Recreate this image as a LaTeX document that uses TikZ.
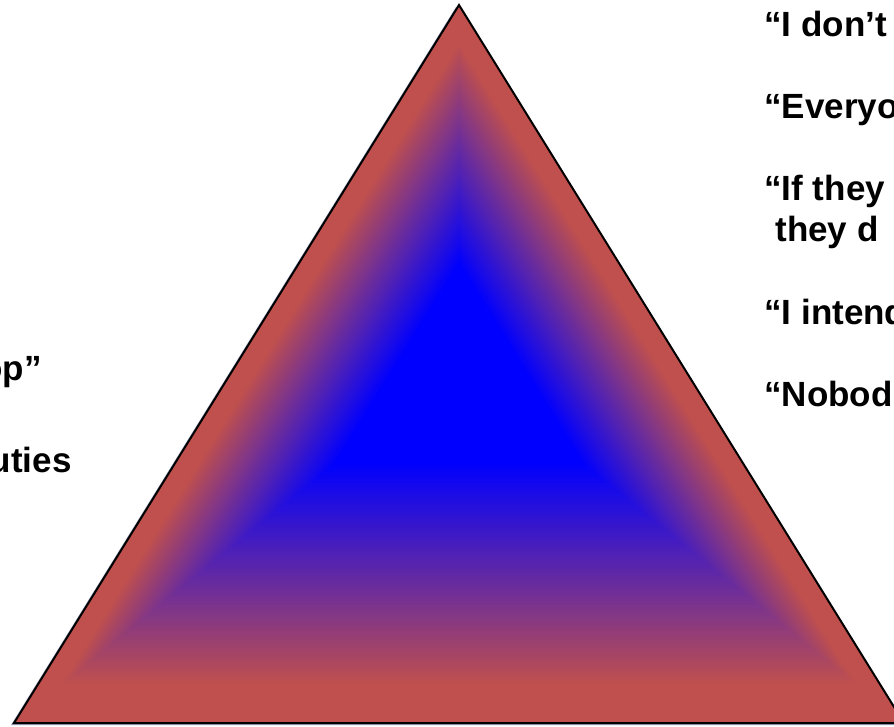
\documentclass[tikz,border=0pt]{standalone}
\usepackage{fontspec}
\setmainfont{Liberation Sans}
\usetikzlibrary{calc}
\definecolor{edgered}{RGB}{192,80,77}
\definecolor{coreblue}{RGB}{0,0,255}
\definecolor{shadowblue}{RGB}{90,100,150}
\tikzset{every picture/.style={line width=0.75pt}}
\tikzset{quote/.style={anchor=base west,inner sep=0pt,font=\fontsize{35}{40}\selectfont\bfseries}}

\begin{document}
\begin{tikzpicture}[x=1pt,y=1pt,yscale=-1,xscale=1]
				\useasboundingbox (0,0) rectangle (894,727);
				\fill[white] (0,0) rectangle (894,727);
				
				% corners of the triangle
				\coordinate (apex) at (459,5);
				\coordinate (lcorner) at (14,723);
				\coordinate (rcorner) at (904,723);
				
				% shadow
				\fill[shadowblue,opacity=0.6] ($(apex)+(-3,2)$) -- ($(lcorner)+(-3,2)$) -- ($(rcorner)+(-3,2)$) -- cycle;
				
				% path gradient, red rim to blue core
				\foreach \i in {0,...,99}{
					\pgfmathsetmacro\s{1-\i/100}
					\pgfmathsetmacro\p{min(100,max(0,(0.9-\s)/0.62*100))}
					\fill[coreblue!\p!edgered,shift={(459,364)},scale=\s] (0,-359) -- (-445,359) -- (445,359) -- cycle;
				}
				
				% outline
				\draw[line width=2pt] (apex) -- (lcorner) -- (rcorner) -- cycle;
				
				% Text Node
				\node[quote,anchor=base east] (lefttop) at (42,380) {op”};
				% Text Node
				\node[quote,anchor=base east] (leftbot) at (72,472) {uties};
				
				% Text Node
				\node[quote] (dont) at (764,37) {“I don’t};
				% Text Node
				\node[quote] (every) at (764,119) {“Everyo};
				% Text Node
				\node[quote] (iftheya) at (764,201) {“If they};
				% Text Node
				\node[quote] (iftheyb) at (775,242) {they d};
				% Text Node
				\node[quote] (intend) at (764,324) {“I intend};
				% Text Node
				\node[quote] (nobody) at (764,406) {“Nobod};
\end{tikzpicture}
\end{document}
